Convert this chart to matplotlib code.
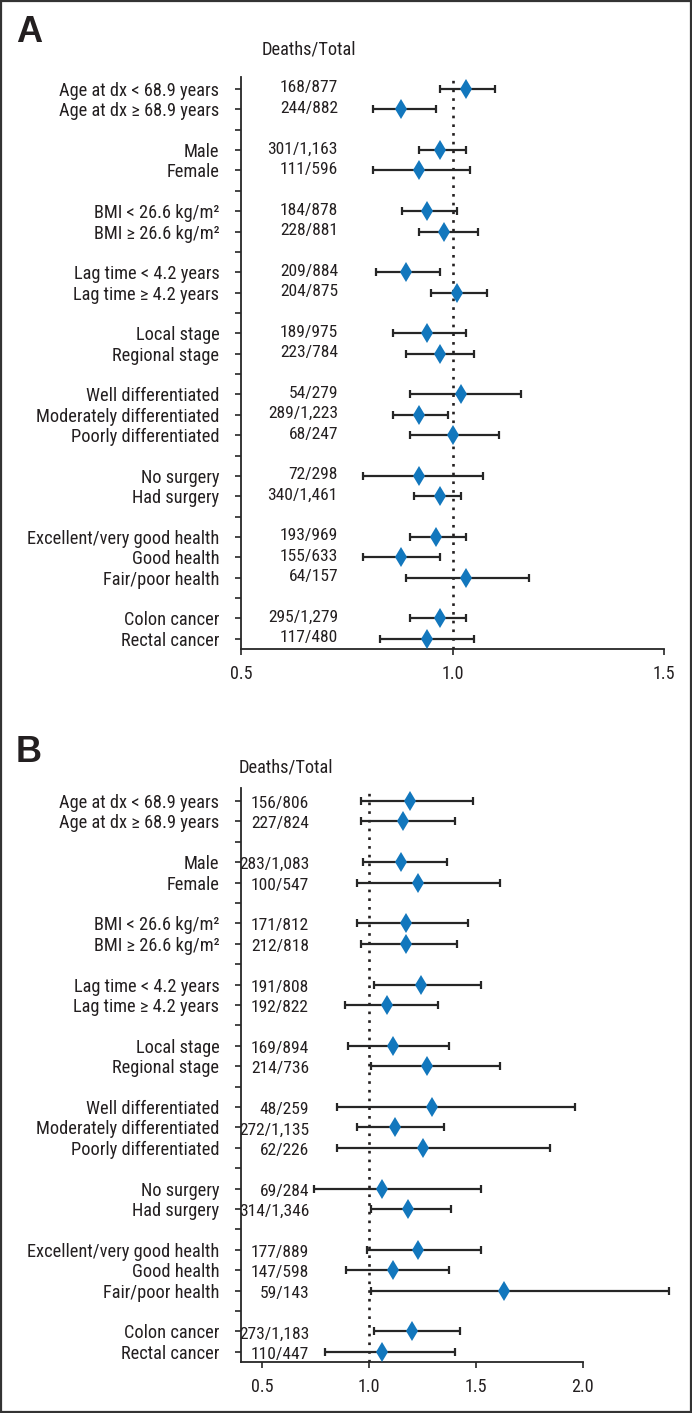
import matplotlib
matplotlib.use("Agg")
import matplotlib.pyplot as plt
from matplotlib.transforms import blended_transform_factory
from matplotlib.patches import Rectangle
from matplotlib import font_manager

# ---------------- data ----------------
labels = [
    "Age at dx < 68.9 years", "Age at dx \u2265 68.9 years",
    "Male", "Female",
    "BMI < 26.6 kg/m\u00b2", "BMI \u2265 26.6 kg/m\u00b2",
    "Lag time < 4.2 years", "Lag time \u2265 4.2 years",
    "Local stage", "Regional stage",
    "Well differentiated", "Moderately differentiated", "Poorly differentiated",
    "No surgery", "Had surgery",
    "Excellent/very good health", "Good health", "Fair/poor health",
    "Colon cancer", "Rectal cancer",
]
group_sizes = [2, 2, 2, 2, 2, 3, 2, 3, 2]

counts_a = ["168/877", "244/882", "301/1,163", "111/596", "184/878", "228/881",
            "209/884", "204/875", "189/975", "223/784", "54/279", "289/1,223",
            "68/247", "72/298", "340/1,461", "193/969", "155/633", "64/157",
            "295/1,279", "117/480"]
hr_a = [1.031, 0.879, 0.970, 0.920, 0.940, 0.981, 0.890, 1.010, 0.940, 0.970,
        1.020, 0.920, 1.000, 0.920, 0.970, 0.960, 0.879, 1.031, 0.970, 0.940]
lo_a = [0.970, 0.811, 0.920, 0.811, 0.880, 0.920, 0.820, 0.950, 0.859, 0.890,
        0.900, 0.859, 0.900, 0.789, 0.910, 0.900, 0.789, 0.890, 0.900, 0.829]
hi_a = [1.101, 0.960, 1.031, 1.041, 1.010, 1.060, 0.970, 1.081, 1.031, 1.051,
        1.161, 0.990, 1.110, 1.071, 1.020, 1.031, 0.970, 1.181, 1.031, 1.051]

counts_b = ["156/806", "227/824", "283/1,083", "100/547", "171/812", "212/818",
            "191/808", "192/822", "169/894", "214/736", "48/259", "272/1,135",
            "62/226", "69/284", "314/1,346", "177/889", "147/598", "59/143",
            "273/1,183", "110/447"]
hr_b = [1.194, 1.159, 1.151, 1.231, 1.174, 1.174, 1.246, 1.083, 1.112, 1.271,
        1.293, 1.124, 1.252, 1.062, 1.182, 1.231, 1.112, 1.632, 1.200, 1.062]
lo_b = [0.963, 0.963, 0.971, 0.942, 0.942, 0.963, 1.023, 0.888, 0.903, 1.010,
        0.851, 0.942, 0.851, 0.742, 1.010, 0.992, 0.893, 1.010, 1.023, 0.793]
hi_b = [1.486, 1.403, 1.364, 1.614, 1.463, 1.413, 1.525, 1.324, 1.374, 1.614,
        1.965, 1.353, 1.847, 1.525, 1.382, 1.525, 1.374, 2.407, 1.424, 1.403]

ticks_a = [0.5, 1.0, 1.5]
ticks_b = [0.5, 1.0, 1.5, 2.0]

# ---------------- style ----------------
W, H = 692, 1413
DPI = 100
TXT = "#231f20"
BLUE = "#1277bd"

installed = {f.name for f in font_manager.fontManager.ttflist}
fam = [f for f in ['Liberation Sans Narrow', 'Roboto Condensed', 'Open Sans Condensed',
                   'DejaVu Sans Condensed'] if f in installed]
condensed = len(fam) > 0
fam = fam + ['Roboto', 'DejaVu Sans']
plt.rcParams['font.family'] = fam
FS_LAB = 13.2 if condensed else 11.5
FS_NUM = 12.6 if condensed else 11.0
FS_TICK = 13.0 if condensed else 11.5

# row positions with gap rows between groups
pos = []
gap_pos = []
p = 0
for gi, n in enumerate(group_sizes):
    for k in range(n):
        pos.append(p)
        p += 1
    if gi < len(group_sizes) - 1:
        gap_pos.append(p)
        p += 1

fig = plt.figure(figsize=(W / DPI, H / DPI), dpi=DPI)


def px_axes(left, top, right, bottom):
    return fig.add_axes([left / W, 1 - bottom / H, (right - left) / W, (bottom - top) / H])


def panel(ax, hr, lo, hi, counts, xlim, ticks, spine_right, count_x_px, left_px, right_px,
          ylim_top, count_dy):
    ax.set_xlim(*xlim)
    ax.set_ylim(27.5, ylim_top)
    ax.axvline(1.0, color=TXT, lw=1.9, linestyle=(0, (1, 2.3)), zorder=1)
    xerr = [[h - l for h, l in zip(hr, lo)], [u - h for h, u in zip(hr, hi)]]
    ax.errorbar(hr, pos, xerr=xerr, fmt='none', ecolor='#262626', elinewidth=1.6,
                capsize=3.0, capthick=1.6, zorder=2)
    ax.plot(hr, pos, linestyle='none', marker='d', markersize=10.2, color=BLUE,
            markeredgewidth=0, zorder=3)
    for s in ['top', 'right']:
        ax.spines[s].set_visible(False)
    for s in ['left', 'bottom']:
        ax.spines[s].set_color('#262626')
        ax.spines[s].set_linewidth(1.3)
    ax.spines['bottom'].set_bounds(xlim[0], spine_right)
    ax.set_xticks(ticks)
    ax.set_xticklabels([f"{t:.1f}" for t in ticks])
    yt = pos + gap_pos
    yl = labels + [""] * len(gap_pos)
    ax.set_yticks(yt)
    ax.set_yticklabels(yl)
    ax.tick_params(axis='y', length=4.5, width=1.2, color='#262626', pad=11,
                   labelsize=FS_LAB, labelcolor=TXT)
    ax.tick_params(axis='x', length=4.5, width=1.2, color='#262626', pad=7,
                   labelsize=FS_TICK, labelcolor=TXT)
    tr = blended_transform_factory(ax.transAxes, ax.transData)
    xa = (count_x_px - left_px) / (right_px - left_px)
    for c, y in zip(counts, pos):
        ax.text(xa, y + count_dy, c, transform=tr, ha='right', va='center',
                fontsize=FS_NUM, color=TXT)


step = 20.37
# Panel A
axA = px_axes(241, 77, 664, 649)
panel(axA, hr_a, lo_a, hi_a, counts_a, (0.5, 1.5), ticks_a, 1.5, 338, 241, 664,
      -(89 - 77) / step, -0.05)

# Panel B
unit_b = 213.6
x0_b = 0.401
right_b = 2.45
right_px_b = 241 + (right_b - x0_b) * unit_b
axB = px_axes(241, 788, right_px_b, 1362)
panel(axB, hr_b, lo_b, hi_b, counts_b, (x0_b, right_b), ticks_b, 2.0, 309, 241, right_px_b,
      -(801 - 788) / step, 0.12)

# headers & panel letters
fig.text(309 / W, 1 - 50 / H, "Deaths/Total", ha='center', va='center', fontsize=FS_LAB, color=TXT)
fig.text(286 / W, 1 - 767 / H, "Deaths/Total", ha='center', va='center', fontsize=FS_LAB, color=TXT)
fig.text(29 / W, 1 - 33 / H, "A", ha='center', va='center', fontsize=26, fontweight='bold',
         family=['Liberation Sans', 'DejaVu Sans'], color=TXT)
fig.text(29 / W, 1 - 752 / H, "B", ha='center', va='center', fontsize=26, fontweight='bold',
         family=['Liberation Sans', 'DejaVu Sans'], color=TXT)

# outer border
fig.patches.append(Rectangle((1 / W, 1 / H), (W - 2) / W, (H - 2) / H, transform=fig.transFigure,
                             fill=False, edgecolor='#333333', linewidth=1.6))

fig.savefig("out.png", dpi=DPI)
